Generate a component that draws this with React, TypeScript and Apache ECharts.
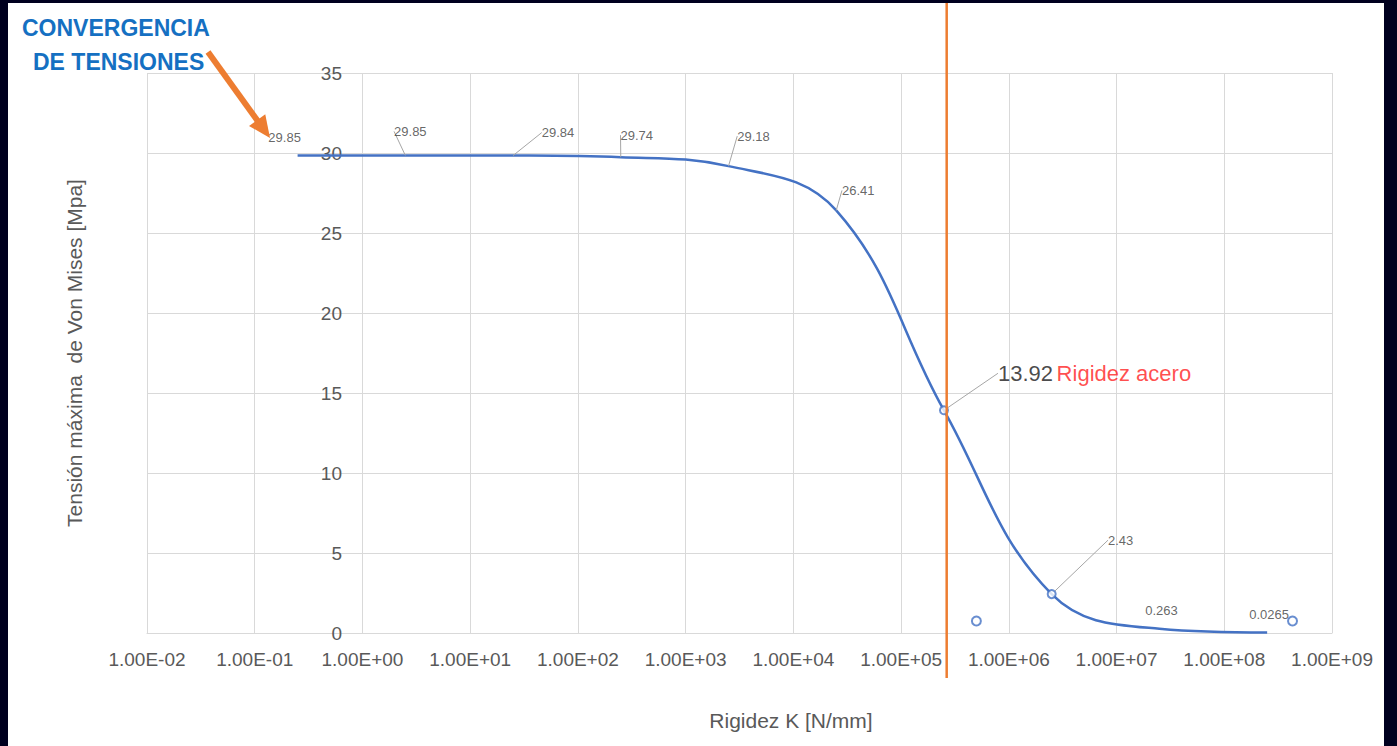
import React, { useEffect, useRef } from 'react';
import * as echarts from 'echarts';

// ---- data ----
const RIGIDEZ = [0.25, 2.5, 25, 250, 2500, 25000, 250000, 2.5e6, 2.5e7, 2.5e8];
const TENSION = [29.85, 29.85, 29.84, 29.74, 29.18, 26.41, 13.92, 2.43, 0.263, 0.0265];
const STRAY_K = [5e5, 4.3e8];
const STRAY_V = [0.75, 0.75];
const STEEL_K = 2.65e5;
const X_TICK_LABELS = ['1.00E-02', '1.00E-01', '1.00E+00', '1.00E+01', '1.00E+02', '1.00E+03', '1.00E+04', '1.00E+05', '1.00E+06', '1.00E+07', '1.00E+08', '1.00E+09'];
const X_MIN = 0.01;
const X_MAX = 1e9;
const Y_MIN = 0;
const Y_MAX = 35;
const Y_STEP = 5;
const MARKED = [6, 7];
const NO_LEADER = [0, 8, 9];

// ---- layout (label offsets relative to the point, px) ----
const LABEL_DX = [-13, 5, 45, 16, 25, 22, 54, 69, 2, 2];
const LABEL_DY = [-18, -24, -23, -22, -30, -20, -37, -54, -18, -18];

const FONT = '"Liberation Sans", Arial, sans-serif';
const BLUE = '#4472C4';
const ORANGE = '#ED7D31';
const GRAY = '#595959';

export default function App() {
  const ref = useRef<HTMLDivElement>(null);
  useEffect(() => {
    const chart = echarts.init(ref.current!, null, { renderer: 'svg' });
    const option: any = {
      animation: false,
      backgroundColor: 'transparent',
      textStyle: { fontFamily: FONT },
      grid: { left: 147, right: 65, top: 73, bottom: 113, containLabel: false, outerBoundsMode: 'none' },
      xAxis: {
        type: 'log',
        logBase: 10,
        min: X_MIN,
        max: X_MAX,
        interval: 1,
        splitNumber: 11,
        axisLine: { show: true, lineStyle: { color: '#d9d9d9', width: 1 } },
        axisTick: { show: false },
        splitLine: { show: true, interval: 0, lineStyle: { color: '#d9d9d9', width: 1 } },
        axisLabel: {
          color: GRAY,
          fontSize: 19,
          fontFamily: FONT,
          margin: 17,
          interval: 0,
          hideOverlap: false,
          showMinLabel: true,
          showMaxLabel: true,
          formatter: (v: number) => X_TICK_LABELS[Math.round(Math.log10(v) - Math.log10(X_MIN))] ?? '',
        },
      },
      yAxis: {
        type: 'value',
        min: Y_MIN,
        max: Y_MAX,
        interval: Y_STEP,
        offset: -215,
        axisLine: { show: false },
        axisTick: { show: false },
        splitLine: { show: true, lineStyle: { color: '#d9d9d9', width: 1 } },
        axisLabel: { color: GRAY, fontSize: 19, fontFamily: FONT, margin: 20 },
        name: 'Tensión máxima  de Von Mises [Mpa]',
        nameLocation: 'middle',
        nameGap: 277,
        nameRotate: 90,
        nameTextStyle: { color: GRAY, fontSize: 21, fontFamily: FONT },
      },
      series: [
        {
          type: 'line',
          data: RIGIDEZ.map((k, i) => [k, TENSION[i]]),
          smooth: 0.4,
          showSymbol: false,
          symbol: 'none',
          lineStyle: { color: BLUE, width: 2.5 },
          z: 2,
        },
        {
          type: 'scatter',
          data: RIGIDEZ.map((k, i) => ({
            value: [k, TENSION[i]],
            symbolSize: MARKED.includes(i) ? 8 : 0,
            labelLine: { show: !NO_LEADER.includes(i) },
          })),
          symbol: 'emptyCircle',
          itemStyle: { color: BLUE, borderColor: BLUE, borderWidth: 1.5 },
          label: {
            show: true,
            position: 'top',
            color: '#404040',
            fontSize: 13,
            fontFamily: FONT,
            formatter: (p: any) =>
              p.dataIndex === 6 ? '{a|' + p.value[1] + '} {b|Rigidez acero}' : String(p.value[1]),
            rich: {
              a: { fontSize: 22, color: '#1a1a1a', fontFamily: FONT },
              b: { fontSize: 22, color: '#ff1f1f', fontFamily: FONT },
            },
          },
          labelLine: { show: true, lineStyle: { color: '#a6a6a6', width: 1 } },
          labelLayout: (params: any) => {
            const i = params.dataIndex;
            const cx = params.rect.x + params.rect.width / 2;
            const cy = params.rect.y + params.rect.height / 2;
            return {
              x: cx + LABEL_DX[i],
              y: cy + LABEL_DY[i],
              align: i === 6 ? 'left' : 'center',
              verticalAlign: 'middle',
            };
          },
          z: 3,
        },
        {
          type: 'scatter',
          data: STRAY_K.map((k, i) => [k, STRAY_V[i]]),
          symbol: 'emptyCircle',
          symbolSize: 9,
          itemStyle: { color: BLUE, borderColor: BLUE, borderWidth: 1.5 },
          z: 3,
        },
      ],
    };
    chart.setOption(option);

    const steelX = chart.convertToPixel({ xAxisIndex: 0 }, STEEL_K) as number;
    // arrow geometry
    const tip = [270, 138];
    const tail = [208, 52];
    const dx = tip[0] - tail[0];
    const dy = tip[1] - tail[1];
    const len = Math.hypot(dx, dy);
    const ux = dx / len;
    const uy = dy / len;
    const headL = 22;
    const headW = 10;
    const bx = tip[0] - ux * headL;
    const by = tip[1] - uy * headL;

    chart.setOption({
      graphic: [
        { type: 'rect', z: -100, silent: true, shape: { x: 8, y: 3, width: 1376, height: 743 }, style: { fill: '#ffffff' } },
        {
          type: 'line',
          z: 10,
          shape: { x1: steelX, y1: 3, x2: steelX, y2: 678 },
          style: { stroke: ORANGE, lineWidth: 2.5 },
        },
        {
          type: 'line',
          z: 10,
          shape: { x1: tail[0], y1: tail[1], x2: bx + ux * 2, y2: by + uy * 2 },
          style: { stroke: ORANGE, lineWidth: 6 },
        },
        {
          type: 'polygon',
          z: 10,
          shape: {
            points: [
              [tip[0], tip[1]],
              [bx - uy * headW, by + ux * headW],
              [bx + uy * headW, by - ux * headW],
            ],
          },
          style: { fill: ORANGE },
        },
        {
          type: 'text',
          z: 10,
          x: 22,
          y: 28,
          style: { text: 'CONVERGENCIA', fill: '#1570c2', font: 'bold 23px ' + FONT, textAlign: 'left', textVerticalAlign: 'middle' },
        },
        {
          type: 'text',
          z: 10,
          x: 33,
          y: 62,
          style: { text: 'DE TENSIONES', fill: '#1570c2', font: 'bold 23px ' + FONT, textAlign: 'left', textVerticalAlign: 'middle' },
        },
        {
          type: 'text',
          z: 10,
          x: 791,
          y: 720,
          style: { text: 'Rigidez K [N/mm]', fill: GRAY, font: '21px ' + FONT, textAlign: 'center', textVerticalAlign: 'middle' },
        },
      ],
    });
    return () => chart.dispose();
  }, []);

  return (
    <div style={{ position: 'absolute', left: 0, top: 0, width: 1397, height: 746, background: '#00001f' }}>
      <div ref={ref} style={{ width: 1397, height: 746 }} />
    </div>
  );
}
